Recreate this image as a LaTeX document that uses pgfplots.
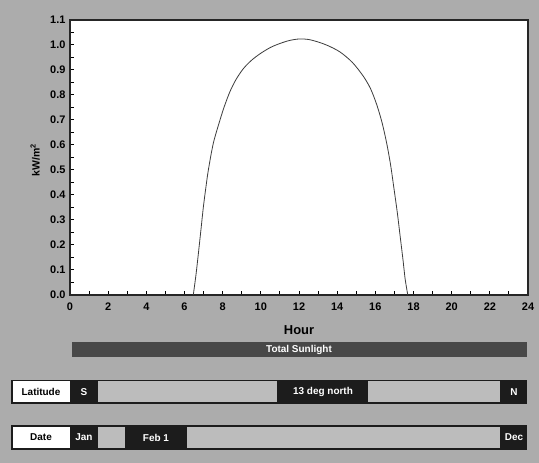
\documentclass[border=0pt]{standalone}
\usepackage{fontspec}
\setmainfont{Liberation Sans}
\usepackage{pgfplots}
\pgfplotsset{compat=1.18}

\definecolor{bgc}{RGB}{172,172,172}
\definecolor{barc}{RGB}{72,72,72}
\definecolor{rowc}{RGB}{28,28,28}
\definecolor{slidec}{RGB}{188,188,188}
\definecolor{curvec}{RGB}{60,60,60}

\newcommand{\uifont}{\bfseries\fontsize{10}{12}\selectfont}

\begin{document}
\begin{tikzpicture}[x=1bp,y=1bp]
  \fill[bgc] (0,0) rectangle (539,463);
  \useasboundingbox (0,0) rectangle (539,463);

  \begin{axis}[
      at={(70bp,168bp)}, anchor=south west,
      scale only axis, width=458bp, height=275bp,
      xmin=0, xmax=24, ymin=0, ymax=1.1,
      axis background/.style={fill=white},
      axis line style={line width=1.5bp, black!85},
      tick align=inside, tick pos=left,
      xtick={0,2,...,24}, minor xtick={1,3,...,23},
      ytick={0,0.1,0.2,0.3,0.4,0.5,0.6,0.7,0.8,0.9,1.0,1.1},
      minor ytick={0.05,0.15,0.25,0.35,0.45,0.55,0.65,0.75,0.85,0.95,1.05},
      major tick length=4bp, minor tick length=4bp,
      every tick/.style={black, line width=1bp},
      /pgf/number format/assume math mode=true,
      yticklabel style={/pgf/number format/fixed, /pgf/number format/precision=1,
        /pgf/number format/fixed zerofill, xshift=-1bp},
      xticklabel style={yshift=-4bp},
      tick label style={font=\bfseries\fontsize{11}{11}\selectfont},
      xlabel={Hour},
      xlabel style={font=\bfseries\fontsize{13}{14}\selectfont, yshift=-8bp},
      ylabel={kW/m\textsuperscript{2}},
      ylabel style={font=\bfseries\fontsize{10.5}{12}\selectfont,
        at={(axis description cs:-0.076,0.49)}, anchor=center},
    ]
    \addplot[curvec, line width=0.8bp] coordinates {
      (0,0) (6.46,0)
    };
    \addplot[curvec, line width=0.8bp] coordinates {
      (17.7,0) (24,0)
    };
    \addplot[curvec, line width=0.8bp, smooth, tension=0.5] coordinates {
      (6.46,0) (6.6,0.08) (6.73,0.168) (6.86,0.26) (6.99,0.353) (7.12,0.43)
      (7.25,0.50) (7.51,0.607) (7.86,0.70) (8.1,0.757) (8.39,0.815) (8.7,0.862)
      (9.08,0.905) (9.5,0.938) (9.96,0.965) (10.5,0.990) (11.0,1.006) (11.5,1.018)
      (12.0,1.024) (12.5,1.022) (13.0,1.012) (13.5,0.998) (14.15,0.972)
      (14.8,0.93) (15.37,0.875) (15.75,0.825) (16.07,0.762) (16.35,0.69)
      (16.6,0.605) (16.8,0.52) (16.95,0.44) (17.15,0.33) (17.3,0.235)
      (17.45,0.14) (17.56,0.065) (17.7,0)
    };
  \end{axis}

  % Total Sunlight bar
  \fill[barc] (71.5,106) rectangle (526.5,121);
  \node[white, font=\uifont] at (299,113.5) {Total Sunlight};

  % Latitude row
  \fill[rowc] (11,59) rectangle (527,83);
  \fill[white] (12.5,60.5) rectangle (70.4,81.5);
  \fill[slidec] (98,61) rectangle (276.6,82);
  \fill[slidec] (368.4,61) rectangle (500,82);
  \node[black, font=\uifont] at (41,71) {Latitude};
  \node[white, font=\uifont] at (84,71) {S};
  \node[white, font=\uifont] at (323,71) {13 deg north};
  \node[white, font=\uifont] at (514,71) {N};

  % Date row
  \fill[rowc] (11,13.4) rectangle (527,37.5);
  \fill[white] (12.5,15) rectangle (70.4,36);
  \fill[slidec] (98,15) rectangle (125.4,36);
  \fill[slidec] (186.6,15) rectangle (500,36);
  \node[black, font=\uifont] at (41,25.5) {Date};
  \node[white, font=\uifont] at (84,25.5) {Jan};
  \node[white, font=\uifont] at (156,25.5) {Feb 1};
  \node[white, font=\uifont] at (514,25.5) {Dec};
\end{tikzpicture}
\end{document}
